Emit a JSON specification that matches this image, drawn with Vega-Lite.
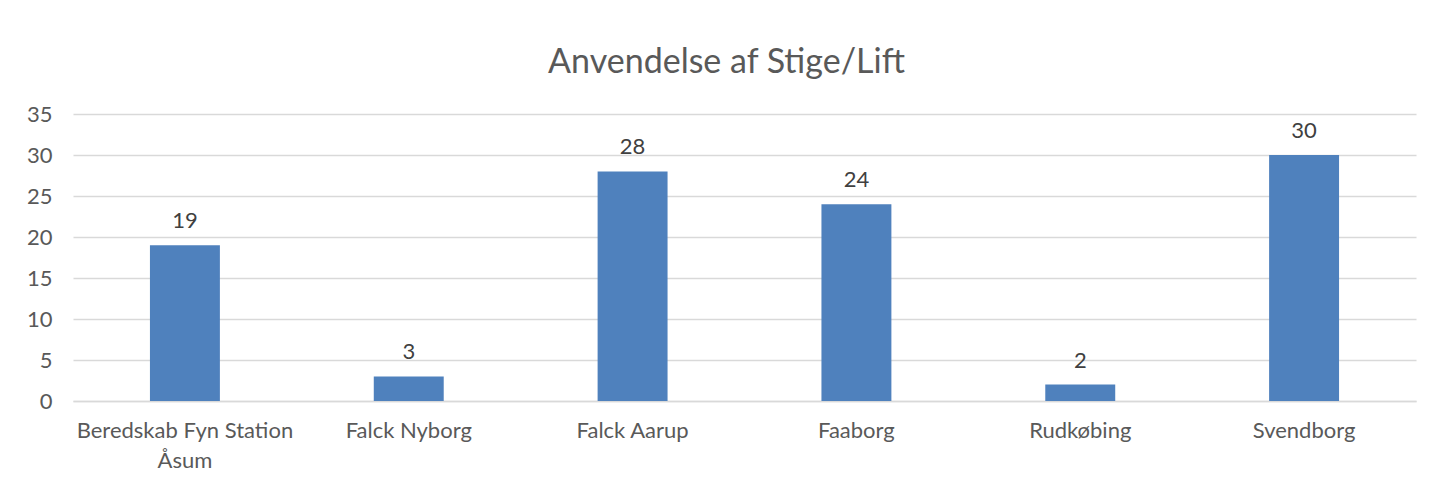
{
  "$schema": "https://vega.github.io/schema/vega-lite/v6.json",
  "autosize": "none",
  "width": 1343,
  "height": 287,
  "padding": {"left": 73, "top": 114, "right": 19, "bottom": 82},
  "background": "white",
  "title": {
    "text": "Anvendelse af Stige/Lift",
    "fontSize": 34,
    "font": "Lato",
    "fontWeight": "normal",
    "color": "#595959",
    "anchor": "middle",
    "dx": -18,
    "offset": 23
  },
  "data": {
    "values": [
      {"station": "Beredskab Fyn Station Åsum", "antal": 19},
      {"station": "Falck Nyborg", "antal": 3},
      {"station": "Falck Aarup", "antal": 28},
      {"station": "Faaborg", "antal": 24},
      {"station": "Rudkøbing", "antal": 2},
      {"station": "Svendborg", "antal": 30}
    ]
  },
  "encoding": {
    "x": {
      "field": "station",
      "type": "nominal",
      "sort": null,
      "scale": {"paddingInner": 0.6875, "paddingOuter": 0.34375},
      "axis": {
        "title": null,
        "labelAngle": 0,
        "labelFont": "Lato",
        "labelFontSize": 22,
        "labelColor": "#595959",
        "labelPadding": 19,
        "labelLineHeight": 30,
        "labelLimit": 400,
        "labelExpr": "datum.value == 'Beredskab Fyn Station Åsum' ? ['Beredskab Fyn Station', 'Åsum'] : datum.value",
        "ticks": false,
        "domainColor": "#d9d9d9",
        "domainWidth": 1.5,
        "grid": false
      }
    },
    "y": {
      "field": "antal",
      "type": "quantitative",
      "scale": {"domain": [0, 35]},
      "axis": {
        "title": null,
        "values": [0, 5, 10, 15, 20, 25, 30, 35],
        "labelFont": "Lato",
        "labelFontSize": 22,
        "labelColor": "#595959",
        "labelPadding": 21,
        "ticks": false,
        "domain": false,
        "gridColor": "#d9d9d9",
        "gridWidth": 1.5
      }
    }
  },
  "layer": [
    {"mark": {"type": "bar", "color": "#4F81BD"}},
    {
      "mark": {
        "type": "text",
        "baseline": "bottom",
        "dy": -12,
        "font": "Lato",
        "fontSize": 22,
        "color": "#404040"
      },
      "encoding": {"text": {"field": "antal", "type": "quantitative"}}
    }
  ],
  "config": {"view": {"stroke": null}}
}
